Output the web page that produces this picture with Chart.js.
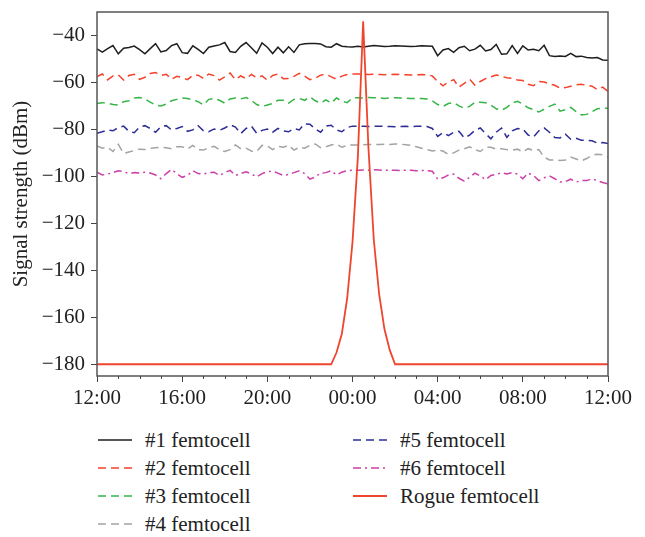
<!DOCTYPE html>
<html>
<head>
<meta charset="utf-8">
<script src="https://cdn.jsdelivr.net/npm/chart.js@4.4.0/dist/chart.umd.min.js"></script>
<style>
  html, body { margin: 0; padding: 0; background: #fff; }
  .wrap { position: relative; width: 645px; height: 537px; font-family: "Liberation Serif", serif; }
  #chart-box { position: absolute; left: 0; top: 0; width: 645px; height: 420px; }
  #legend-container { position: absolute; left: 98px; top: 426px; }
  #legend-container ul {
    list-style: none; margin: 0; padding: 0;
    display: grid; grid-template-columns: 255px 240px;
    grid-template-rows: repeat(4, 28px); grid-auto-flow: column;
  }
  #legend-container li { display: flex; align-items: center; font-size: 21px; color: #222; white-space: nowrap; }
  #legend-container svg { margin-right: 13px; }
</style>
</head>
<body>
<div class="wrap">
  <div id="chart-box"><canvas id="myChart"></canvas></div>
  <div id="legend-container"></div>
</div>
<script>
// x axis: hours after 12:00, one reading every 15 min
const xTickLabels = ["12:00", "16:00", "20:00", "00:00", "04:00", "08:00", "12:00"];
const yTicks = [-180, -160, -140, -120, -100, -80, -60, -40];
const times = Array.from({ length: 97 }, (_, i) => i * 0.25);

const femto1 = [
  -45.7, -47.1, -45.6, -44.3, -47.8, -45.4, -45.1, -44.5, -46.0, -47.8, -45.6, -43.5, -47.0, -46.4, -44.3, -43.5,
  -47.3, -47.6, -44.4, -45.9, -47.7, -45.0, -44.5, -44.0, -43.0, -46.8, -47.2, -44.6, -43.0, -45.2, -47.6, -43.2,
  -45.0, -47.7, -45.0, -47.4, -44.8, -47.2, -44.0, -43.5, -43.4, -43.4, -43.6, -44.8, -45.0, -43.5, -44.6, -44.8,
  -44.9, -44.6, -44.9, -44.6, -44.3, -44.5, -44.7, -44.6, -44.4, -44.5, -44.6, -44.7, -44.6, -44.4, -44.5, -44.6,
  -48.6, -46.2, -45.6, -47.2, -45.2, -44.6, -46.5, -45.8, -44.2, -46.6, -46.0, -43.8, -48.0, -47.8, -44.3, -47.6,
  -44.4, -46.2, -45.9, -46.5, -44.2, -48.6, -48.9, -48.7, -48.9, -47.6, -49.0, -48.8, -49.4, -49.6, -49.4, -50.4,
  -50.6
];
const femto2 = [
  -57.5, -56.4, -58.9, -57.2, -56.8, -59.0, -57.0, -56.5, -58.7, -57.8, -56.2, -55.8, -57.0, -56.5, -58.6, -57.4,
  -57.9, -58.8, -57.0, -56.9, -58.3, -56.4, -57.1, -59.0, -57.6, -56.0, -58.8, -57.2, -58.4, -56.6, -58.0, -57.2,
  -59.0, -57.0, -56.4, -58.4, -58.3, -57.4, -56.1, -57.3, -58.8, -58.2, -56.9, -56.5, -57.6, -58.6, -57.3, -56.6,
  -56.4, -56.4, -56.5, -56.6, -56.5, -56.6, -56.7, -56.6, -56.5, -56.6, -56.7, -56.8, -56.7, -56.6, -56.8, -57.2,
  -59.6, -61.4, -59.8, -58.8, -62.0, -60.4, -58.6, -61.2, -59.6, -58.4, -57.6, -56.8, -57.4, -58.0, -58.2, -59.0,
  -59.2, -60.8, -61.4, -59.6, -59.8, -60.6, -61.2, -62.4, -62.2, -61.6, -61.0, -60.8, -61.2, -61.6, -63.0, -62.0,
  -63.8
];
const femto3 = [
  -69.0, -68.6, -68.8, -69.4, -69.6, -68.2, -67.8, -66.6, -66.4, -67.0, -68.4, -69.6, -70.0, -69.2, -67.8, -67.2,
  -66.6, -66.8, -67.4, -68.2, -69.6, -67.2, -66.8, -67.6, -68.8, -67.0, -66.6, -67.0, -66.4, -67.6, -69.4, -70.2,
  -69.6, -69.0, -67.6, -67.6, -68.8, -67.2, -66.8, -67.6, -66.2, -67.8, -68.8, -67.4, -68.8, -66.6, -68.0, -68.6,
  -66.5, -66.5, -66.6, -66.4, -66.5, -66.6, -66.8, -66.6, -66.5, -66.6, -66.7, -66.8, -66.9, -66.8, -67.0, -67.8,
  -69.4, -70.2, -69.0, -68.6, -70.0, -71.0, -70.2, -68.4, -68.4, -68.6, -69.6, -71.2, -71.8, -70.6, -68.8, -68.0,
  -69.2, -70.8, -71.6, -72.6, -71.4, -70.2, -69.2, -72.2, -71.6, -70.6, -72.4, -73.8, -73.6, -72.4, -71.2, -71.0,
  -71.0
];
const femto4 = [
  -87.0, -88.0, -87.6, -89.4, -86.4, -90.2, -89.6, -89.0, -88.4, -88.6, -88.0, -87.8, -87.6, -87.8, -88.2, -87.4,
  -87.4, -88.4, -86.8, -88.6, -88.8, -87.8, -87.2, -88.6, -89.4, -88.6, -86.6, -88.2, -88.0, -89.2, -89.4, -86.8,
  -87.0, -88.6, -87.2, -87.6, -86.8, -88.8, -87.6, -88.0, -86.8, -86.2, -87.8, -87.4, -86.6, -86.2, -87.6, -86.8,
  -86.6, -86.6, -86.5, -86.4, -86.5, -86.4, -86.3, -86.4, -86.2, -86.3, -86.5, -86.8, -87.4, -88.0, -88.6, -89.2,
  -88.8, -89.2, -90.6, -90.0, -88.8, -88.2, -87.4, -88.6, -89.4, -87.6, -87.6, -88.4, -88.2, -88.6, -88.8, -88.4,
  -89.6, -88.2, -89.0, -88.6, -91.8, -93.0, -93.0, -93.2, -93.0, -91.8, -92.6, -93.4, -92.4, -91.0, -90.6, -90.8,
  -91.6
];
const femto5 = [
  -81.6, -81.0, -80.2, -80.6, -79.2, -78.6, -80.8, -81.4, -79.0, -78.4, -79.6, -81.2, -78.8, -78.4, -80.2, -79.6,
  -78.8, -80.8, -80.2, -78.4, -80.6, -81.0, -79.8, -80.4, -79.4, -78.0, -79.0, -81.8, -79.6, -78.6, -81.6, -80.4,
  -79.8, -81.2, -79.6, -80.6, -81.0, -79.6, -80.2, -77.6, -77.8, -79.8, -81.2, -78.6, -78.2, -80.2, -81.0, -79.2,
  -78.6, -78.6, -78.7, -78.8, -78.7, -78.6, -78.7, -78.8, -78.9, -78.8, -78.7, -78.8, -78.7, -78.6, -78.8, -79.6,
  -83.0, -81.4, -82.6, -81.2, -80.8, -83.6, -82.4, -80.4, -79.4, -81.8, -84.0, -81.2, -79.4, -83.4, -80.6, -79.6,
  -79.8, -82.4, -83.2, -80.6, -79.4, -81.2, -83.4, -83.6, -82.0, -84.2, -83.8, -84.6, -84.6, -84.8, -85.8, -85.6,
  -86.0
];
const femto6 = [
  -98.2, -99.4, -99.0, -98.4, -97.6, -98.0, -98.8, -98.4, -98.6, -98.2, -98.6, -99.4, -101.0, -98.8, -97.0, -98.8,
  -100.4, -99.6, -97.6, -98.8, -99.0, -98.4, -98.2, -99.6, -98.4, -97.4, -99.6, -98.8, -98.0, -99.0, -100.2, -98.8,
  -98.0, -97.8, -98.6, -99.6, -99.2, -98.4, -97.6, -98.8, -101.2, -100.2, -98.6, -98.4, -97.6, -99.4, -98.2, -97.6,
  -97.4, -97.4, -97.3, -97.4, -97.2, -97.3, -97.4, -97.3, -97.4, -97.5, -97.4, -97.4, -97.6, -97.5, -97.6, -97.8,
  -101.2, -100.6, -99.4, -99.0, -100.8, -102.0, -100.4, -98.6, -99.8, -101.4, -99.6, -99.2, -98.4, -99.0, -98.4, -99.0,
  -101.0, -98.6, -99.6, -101.8, -100.6, -99.8, -101.0, -102.4, -102.2, -101.2, -102.4, -101.8, -101.8, -101.0, -101.8, -102.6,
  -103.2
];
// rogue femtocell: only the burst around 00:30
const rogueTimes = [0, 11, 11.25, 11.5, 11.75, 12, 12.25, 12.5, 12.75, 13, 13.25, 13.5, 13.75, 14, 24];
const rogueValues = [-180, -180, -175, -167, -152, -128, -92, -34, -88, -127, -150, -165, -174, -180, -180];

function toPoints(xs, ys) {
  return ys.map((y, i) => ({ x: xs[i], y: y }));
}

//html legend, two columns
const htmlLegendPlugin = {
  id: "htmlLegend",
  afterUpdate(chart) {
    const box = document.getElementById("legend-container");
    box.innerHTML = "";
    const ul = document.createElement("ul");
    chart.data.datasets.forEach((ds) => {
      const li = document.createElement("li");
      const dash = (ds.borderDash || []).join(",");
      li.innerHTML =
        '<svg width="34" height="6"><line x1="0" y1="3" x2="34" y2="3" stroke="' + ds.borderColor +
        '" stroke-width="' + ds.borderWidth + '" stroke-dasharray="' + dash + '"/></svg>' +
        "<span>" + ds.label + "</span>";
      ul.appendChild(li);
    });
    box.appendChild(ul);
  },
};

//frame + hourly minor ticks
const framePlugin = {
  id: "frame",
  afterDraw(chart) {
    const { ctx, chartArea: a } = chart;
    const xs = chart.scales.x;
    ctx.save();
    ctx.strokeStyle = "#555";
    ctx.lineWidth = 1.5;
    ctx.strokeRect(a.left, a.top, a.right - a.left, a.bottom - a.top);
    ctx.lineWidth = 1;
    ctx.strokeStyle = "#444";
    for (let h = 1; h < 24; h++) {
      if (h % 4 === 0) continue;
      const px = Math.round(xs.getPixelForValue(h)) + 0.5;
      ctx.beginPath();
      ctx.moveTo(px, a.bottom);
      ctx.lineTo(px, a.bottom + 3);
      ctx.stroke();
    }
    ctx.restore();
  },
};

function initChart() {
  Chart.defaults.font.family = '"Liberation Serif", serif';
  Chart.defaults.font.size = 21;
  Chart.defaults.color = "#222";

  const line = (label, data, color, dash) => ({
    label: label,
    data: data,
    borderColor: color,
    borderWidth: 1.5,
    borderDash: dash,
    pointRadius: 0,
    tension: 0,
    fill: false,
  });

  const config = {
    type: "line",
    data: {
      datasets: [
        line("#1 femtocell", toPoints(times, femto1), "#1e1e1e", []),
        line("#2 femtocell", toPoints(times, femto2), "#f5402a", [8, 5]),
        line("#3 femtocell", toPoints(times, femto3), "#35b548", [8, 5]),
        line("#4 femtocell", toPoints(times, femto4), "#a3a3a3", [8, 5]),
        line("#5 femtocell", toPoints(times, femto5), "#2d2d96", [8, 5]),
        line("#6 femtocell", toPoints(times, femto6), "#cc3fa6", [8, 4, 2, 4]),
        Object.assign(line("Rogue femtocell", toPoints(rogueTimes, rogueValues), "#f0452d", []), { borderWidth: 1.8, order: -1 }),
      ],
    },
    options: {
      responsive: true,
      maintainAspectRatio: false,
      animation: false,
      layout: { padding: { left: 0, right: 37, top: 12, bottom: 0 } },
      plugins: {
        legend: { display: false },
        title: { display: false },
        tooltip: { enabled: false },
      },
      scales: {
        x: {
          type: "linear",
          min: 0,
          max: 24,
          border: { display: false },
          grid: { drawOnChartArea: false, tickLength: 6, tickColor: "#444", tickWidth: 1 },
          ticks: {
            stepSize: 4,
            padding: 4,
            maxRotation: 0,
            callback: (v) => xTickLabels[v / 4],
          },
          afterFit: (s) => { s.height = 44; s.paddingLeft = 0; s.paddingRight = 0; },
        },
        y: {
          min: -185,
          max: -30,
          border: { display: false },
          grid: { drawOnChartArea: false, tickLength: 6, tickColor: "#444", tickWidth: 1 },
          afterBuildTicks: (s) => { s.ticks = yTicks.map((v) => ({ value: v })); },
          ticks: {
            padding: 6,
            callback: (v) => "\u2212" + Math.abs(v),
          },
          title: {
            display: true,
            text: "Signal strength (dBm)",
            padding: { top: 9, bottom: 0 },
          },
          afterFit: (s) => { s.width = 97; s.paddingTop = 0; s.paddingBottom = 0; },
        },
      },
    },
    plugins: [htmlLegendPlugin, framePlugin],
  };

  const ctx = document.getElementById("myChart").getContext("2d");
  return new Chart(ctx, config);
}

initChart();
</script>
</body>
</html>
